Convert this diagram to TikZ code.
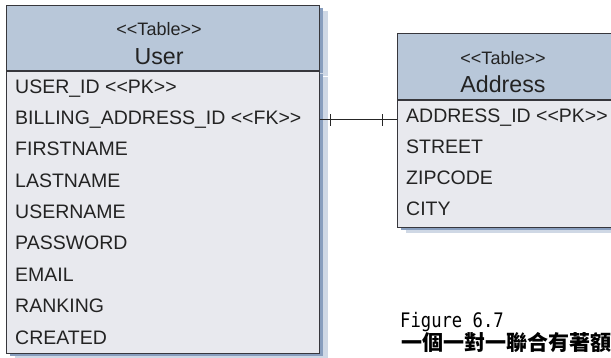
\documentclass[tikz,border=0pt]{standalone}
\usepackage{fontspec}
\setmainfont{Liberation Sans}
\newfontfamily\cjk{Noto Sans CJK TC}
\newfontfamily\capmono{DejaVu Sans Mono}[FakeStretch=0.86]
\usetikzlibrary{decorations.markings}
\definecolor{tHead}{RGB}{184,199,217}
\definecolor{tBody}{RGB}{232,233,238}
\definecolor{tLine}{RGB}{55,55,60}
\definecolor{tShadow}{RGB}{96,126,168}
\definecolor{tText}{RGB}{35,35,35}
\tikzset{
    tshadow/.style={preaction={fill=tShadow!30, draw=none, transform canvas={xshift=9pt,yshift=-6pt}},
                    preaction={fill=tShadow!75, draw=none, transform canvas={xshift=4pt,yshift=-3pt}}},
    head/.style={tshadow, draw=tLine, line width=0.9pt, fill=tHead, anchor=north west, inner sep=0pt},
    body/.style={tshadow, draw=tLine, line width=0.9pt, fill=tBody, anchor=north west, inner sep=0pt},
    fld/.style={anchor=base west, inner sep=0pt, text=tText, font=\fontsize{19.5}{22}\selectfont},
    stereo/.style={anchor=base, inner sep=0pt, text=tText, font=\fontsize{18}{20}\selectfont},
    title/.style={anchor=base, inner sep=0pt, text=tText, font=\fontsize{23.2}{26}\selectfont},
    link/.style={draw=black!85, line width=0.9pt, postaction={decorate}, decoration={markings,
        mark=at position 11pt with {\draw[line width=0.9pt] (0,-6pt) -- (0,6pt);},
        mark=at position -15pt with {\draw[line width=0.9pt] (0,-6pt) -- (0,6pt);}}}
}
\newcommand{\us}{\char"5F\relax}

\begin{document}
\begin{tikzpicture}[x=1pt,y=-1pt]
\useasboundingbox (0,0) rectangle (611,357);
% User table
\node[head, minimum width=313pt, minimum height=65pt] (userH) at (6,5) {};
\node[body, minimum width=313pt, minimum height=282pt] (userB) at (userH.south west) {};
\node[stereo] (userS) at (159,35.5) {<{}<Table>{}>};
\node[title] (userT) at (159,64) {User};
\foreach \f [count=\i from 0] in {USER\us ID <{}<PK>{}>, BILLING\us ADDRESS\us ID <{}<FK>{}>,
    FIRSTNAME, LASTNAME, USERNAME, PASSWORD, EMAIL, RANKING, CREATED}
    \node[fld] (u\i) at (15,93+31.375*\i) {\f};
% Address table
\node[head, minimum width=220pt, minimum height=66pt] (addrH) at (397,33) {};
\node[body, minimum width=220pt, minimum height=127pt] (addrB) at (addrH.south west) {};
\node[stereo] (addrS) at (503,64) {<{}<Table>{}>};
\node[title] (addrT) at (503,92.7) {Address};
\foreach \f [count=\i from 0] in {ADDRESS\us ID <{}<PK>{}>, STREET, ZIPCODE, CITY}
    \node[fld] (a\i) at (406,122.3+31.2*\i) {\f};
% one-to-one
\draw[link] (userB.east |- a0.mid) -- (addrB.west |- a0.mid);
% caption
\node[anchor=base west, inner sep=0pt, font=\capmono\fontsize{20}{22}\selectfont] (figNo) at (400,327) {Figure 6.7};
\node[anchor=base west, inner sep=0pt, font=\cjk\bfseries\fontsize{21}{24}\selectfont] (figCap) at (401,350) {一個一對一聯合有著額};
\end{tikzpicture}
\end{document}
